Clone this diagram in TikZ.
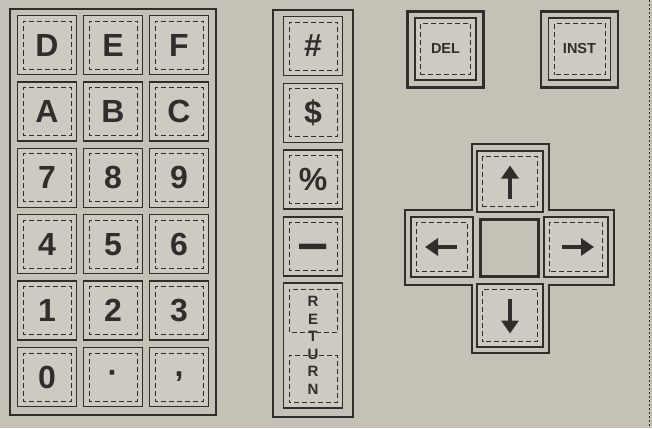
\documentclass[tikz,border=0pt]{standalone}
\usepackage{fontspec}
\setmainfont{Liberation Sans}
\usetikzlibrary{arrows.meta}
\definecolor{papel}{RGB}{198,193,183}
\definecolor{tecla}{RGB}{207,202,193}
\definecolor{tinta}{RGB}{50,45,45}
\tikzset{
  tapa/.style={draw=tinta, line width=1.3pt, fill=tecla, inner sep=0pt, text=tinta,
    minimum width=59pt, minimum height=59pt, font=\fontsize{32}{32}\selectfont\bfseries},
  rayas/.style={tinta, line width=0.9pt, dash pattern=on 5pt off 3pt, dash phase=2.5pt},
  key/.style={tapa, path picture={\draw[rayas] ([shift={(5.5pt,5.5pt)}]path picture bounding box.south west)
    rectangle ([shift={(-5.5pt,-5.5pt)}]path picture bounding box.north east);}},
  marco/.style={draw=tinta, line width=2.6pt},
  flecha/.style={tinta, line width=4.5pt, -{Triangle[length=13pt,width=17pt]}},
}
\begin{document}
\begin{tikzpicture}[x=1pt,y=-1pt]
\fill[papel] (0,0) rectangle (652,428);
\useasboundingbox (0,0) rectangle (652,428);
% teclado numerico
\draw[marco] (10,9) rectangle (216,415);
\foreach \t [count=\n from 0] in {D,E,F,A,B,C,7,8,9,4,5,6,1,2,3,0,{\textperiodcentered},{,}}{
  \pgfmathsetmacro\cx{47+66*mod(\n,3)}
  \pgfmathsetmacro\cy{45+66.4*int(\n/3)}
  \node[key] (k\n) at (\cx,\cy) {\t};
}
% columna de simbolos
\draw[marco] (273,10) rectangle (353,417);
\foreach \t [count=\n from 0] in {\#,\$,\%,{\raisebox{-15pt}[0pt][0pt]{\scalebox{0.85}[1.7]{\textemdash}}}}
  \node[key] (s\n) at (313,46+66.8*\n) {\t};
\node[tapa, minimum height=125pt, align=center, font=\fontsize{15}{17.5}\selectfont\bfseries,
  path picture={
    \draw[rayas] ([shift={(5.5pt,-6pt)}]path picture bounding box.north west) rectangle ([shift={(-5.5pt,-49pt)}]path picture bounding box.north east);
    \draw[rayas] ([shift={(5.5pt,5.5pt)}]path picture bounding box.south west) rectangle ([shift={(-5.5pt,53pt)}]path picture bounding box.south east);}]
  (ret) at (313,345.5) {R\\E\\T\\U\\R\\N};
% DEL e INST
\node[key, minimum width=61pt, minimum height=62pt, font=\fontsize{14.5}{14.5}\selectfont\bfseries] (del) at (445.5,49) {DEL};
\node[key, minimum width=62pt, minimum height=62pt, font=\fontsize{14.5}{14.5}\selectfont\bfseries] (inst) at (579.5,49) {INST};
\draw[marco] ([shift={(-7pt,6pt)}]del.north west) rectangle ([shift={(7pt,-7pt)}]del.south east);
\draw[marco] ([shift={(-7pt,6pt)}]inst.north west) rectangle ([shift={(7pt,-7pt)}]inst.south east);
% cursores
\draw[marco] (472,144) -- (549,144) -- (549,210) -- (614,210) -- (614,285) -- (549,285) -- (549,353)
  -- (472,353) -- (472,285) -- (405,285) -- (405,210) -- (472,210) -- cycle;
\node[key, minimum width=66pt, minimum height=61pt] (arriba) at (510,181.5) {};
\node[key, minimum width=62pt, minimum height=60pt] (izq) at (442,247) {};
\node[key, minimum width=64pt, minimum height=60pt] (der) at (576,247) {};
\node[key, minimum width=66pt, minimum height=63pt] (abajo) at (510,315.5) {};
\node[draw=tinta, line width=2.6pt, minimum width=58pt, minimum height=57pt] (centro) at (509.5,248) {};
\draw[flecha] ([yshift=-17pt]arriba.center) -- ([yshift=16pt]arriba.center);
\draw[flecha] ([xshift=15pt]izq.center) -- ([xshift=-17pt]izq.center);
\draw[flecha] ([xshift=-14pt]der.center) -- ([xshift=18pt]der.center);
\draw[flecha] ([yshift=17pt]abajo.center) -- ([yshift=-18pt]abajo.center);
% borde de la hoja
\draw[tinta, line width=1pt, dash pattern=on 2pt off 2pt] (649,0) -- (649,428);
\end{tikzpicture}
\end{document}
